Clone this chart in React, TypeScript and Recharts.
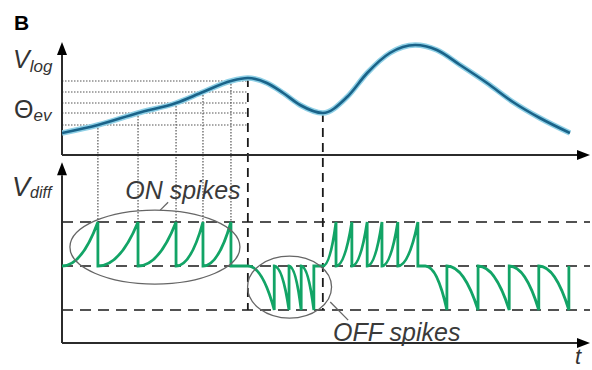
import { ComposedChart, Line, XAxis, YAxis, ReferenceLine, ReferenceDot } from 'recharts'

// ---- data (time in arbitrary units 0..10) ----
// V_log (upper panel)
const LOG_T = [0, 0.68, 1.44, 2.16, 2.67, 3.2, 3.52, 3.88, 4.19, 4.51, 4.94, 5.4, 5.78, 6.21, 6.69, 7.1, 7.54, 8.05, 8.54, 9.05, 9.62]
const LOG_V = [2.2, 3.0, 4.2, 5.2, 6.3, 7.4, 7.7, 7.2, 6.2, 5.0, 4.2, 5.8, 8.2, 10.2, 11.0, 10.5, 9.0, 7.2, 5.3, 3.7, 2.2]

// event thresholds (dotted lines) and the first ON spike times
const THETA = [3.0, 4.2, 5.2, 6.3, 7.4]
const ON_SPIKES_1 = [0.68, 1.44, 2.16, 2.67, 3.2]
const PEAK_T = 3.52
const OFF_SPIKES_1 = [4.02, 4.3, 4.53, 4.77]
const DIP_T = 4.94
const ON_SPIKES_2 = [5.19, 5.49, 5.78, 6.06, 6.36, 6.74]
const OFF_START_2 = 6.88
const OFF_SPIKES_2 = [7.29, 7.88, 8.47, 9.03, 9.6]
const PEAK_V = 7.7
const DIP_V = 4.2

// V_diff levels
const ON_LEVEL = 1
const OFF_LEVEL = -1

// ---- layout ----
const W = 592
const H = 370
const LOG_ZERO_Y = 155 // pixel row of V_log = 0
const LOG_PX = 10 // px per V_log unit
const DIFF_ZERO_Y = 266 // pixel row of V_diff = 0
const DIFF_PX = 44

const logDomain: [number, number] = [(LOG_ZERO_Y - H) / LOG_PX, LOG_ZERO_Y / LOG_PX]
const diffDomain: [number, number] = [(DIFF_ZERO_Y - H) / DIFF_PX, DIFF_ZERO_Y / DIFF_PX]
const diffToLog = (d: number) => (LOG_ZERO_Y - (DIFF_ZERO_Y - DIFF_PX * d)) / LOG_PX

const FONT = '"Liberation Sans", Arial, sans-serif'
const BLUE = '#1a6389'
const BLUE_HALO = '#8fd0e6'
const GREEN = '#12a466'
const INK = '#2b2b2b'

const logData = LOG_T.map((t, i) => ({ t, v: LOG_V[i] }))

// spike trains: ramp to threshold, then jump back to 0
function spikes(times: number[], level: number) {
  const out: { t: number; v: number }[] = []
  times.forEach((t) => {
    out.push({ t, v: level })
    out.push({ t, v: 0 })
  })
  return out
}
const diffData = [
  { t: 0, v: 0 },
  ...spikes(ON_SPIKES_1, ON_LEVEL),
  { t: PEAK_T, v: 0 },
  ...spikes(OFF_SPIKES_1, OFF_LEVEL),
  { t: DIP_T, v: 0 },
  ...spikes(ON_SPIKES_2, ON_LEVEL),
  { t: OFF_START_2, v: 0 },
  ...spikes(OFF_SPIKES_2, OFF_LEVEL),
]

// curve: flat start, steepening towards threshold; straight for jumps / flats
function rampCurve(context: any) {
  let px = 0, py = 0, n = 0
  return {
    areaStart() {},
    areaEnd() {},
    lineStart() { n = 0 },
    lineEnd() {},
    point(x: number, y: number) {
      x = +x; y = +y
      if (n === 0) context.moveTo(x, y)
      else if (Math.abs(x - px) < 0.5 || Math.abs(y - py) < 0.5) context.lineTo(x, y)
      else context.quadraticCurveTo(px + 0.55 * (x - px), py, x, y)
      px = x; py = y; n++
    },
  }
}

function ArrowLine(p: any) {
  const { x1, y1, x2, y2 } = p
  const a = Math.atan2(y2 - y1, x2 - x1)
  const L = 13, hw = 5
  const bx = x2 - L * Math.cos(a), by = y2 - L * Math.sin(a)
  const pts = `${x2},${y2} ${bx - hw * Math.sin(a)},${by + hw * Math.cos(a)} ${bx + hw * Math.sin(a)},${by - hw * Math.cos(a)}`
  return (
    <g>
      <line x1={x1} y1={y1} x2={bx} y2={by} stroke={INK} strokeWidth={2} />
      <polygon points={pts} fill="#000" />
    </g>
  )
}

const ellipse = (rx: number, ry: number) => (p: any) => (
  <ellipse cx={p.cx} cy={p.cy} rx={rx} ry={ry} fill="none" stroke="#666" strokeWidth={1.3} />
)

const note = (text: string) => (p: any) => (
  <text x={p.cx} y={p.cy} textAnchor="middle" dominantBaseline="central" fontFamily={FONT} fontStyle="italic" fontSize={25} fill="#3a3a3a">
    {text}
  </text>
)

export default function App() {
  return (
    <div style={{ position: 'absolute', left: 0, top: 0, width: W, height: H, background: '#fff', overflow: 'hidden' }}>
      <ComposedChart width={W} height={H} margin={{ top: 0, right: 2, bottom: 0, left: 62 }}>
        <XAxis type="number" dataKey="t" domain={[0, 10]} hide allowDataOverflow />
        <YAxis yAxisId="log" type="number" domain={logDomain} hide allowDataOverflow />
        <YAxis yAxisId="diff" type="number" domain={diffDomain} hide allowDataOverflow />

        {/* threshold levels (dotted) */}
        {THETA.map((th) => (
          <ReferenceLine key={'th' + th} yAxisId="log" segment={[{ x: 0, y: th }, { x: PEAK_T, y: th }]}
            stroke="#555" strokeWidth={1.2} strokeDasharray="1.5 1.5" />
        ))}
        {ON_SPIKES_1.map((t, i) => (
          <ReferenceLine key={'sp' + t} yAxisId="log" segment={[{ x: t, y: THETA[i] }, { x: t, y: diffToLog(ON_LEVEL) }]}
            stroke="#555" strokeWidth={1.2} strokeDasharray="1.5 1.5" />
        ))}

        {/* V_diff threshold lines */}
        {[ON_LEVEL, 0, OFF_LEVEL].map((lv) => (
          <ReferenceLine key={'lv' + lv} yAxisId="diff" y={lv} stroke="#1a1a1a" strokeWidth={1.7} strokeDasharray="11 7" />
        ))}

        {/* dashed verticals at peak and dip */}
        <ReferenceLine yAxisId="log" segment={[{ x: PEAK_T, y: PEAK_V }, { x: PEAK_T, y: diffToLog(OFF_LEVEL) }]}
          stroke="#1a1a1a" strokeWidth={1.8} strokeDasharray="9 6" />
        <ReferenceLine yAxisId="log" segment={[{ x: DIP_T, y: DIP_V }, { x: DIP_T, y: diffToLog(OFF_LEVEL) }]}
          stroke="#1a1a1a" strokeWidth={1.8} strokeDasharray="9 6" />

        {/* axes with arrows */}
        <ReferenceLine yAxisId="log" segment={[{ x: 0, y: 0 }, { x: 10, y: 0 }]} shape={ArrowLine} />
        <ReferenceLine yAxisId="log" segment={[{ x: 0, y: 0 }, { x: 0, y: 11.3 }]} shape={ArrowLine} />
        <ReferenceLine yAxisId="diff" segment={[{ x: 0, y: -1.75 }, { x: 10, y: -1.75 }]} shape={ArrowLine} />
        <ReferenceLine yAxisId="diff" segment={[{ x: 0, y: -1.75 }, { x: 0, y: 2.36 }]} shape={ArrowLine} />

        {/* V_log */}
        <Line yAxisId="log" data={logData} dataKey="v" type="monotone" dot={false} stroke={BLUE_HALO} strokeWidth={5.5} isAnimationActive={false} />
        <Line yAxisId="log" data={logData} dataKey="v" type="monotone" dot={false} stroke={BLUE} strokeWidth={2.6} isAnimationActive={false} />

        {/* V_diff */}
        <Line yAxisId="diff" data={diffData} dataKey="v" type={rampCurve as any} dot={false} stroke={GREEN} strokeWidth={2.8} isAnimationActive={false} />

        {/* annotations */}
        <ReferenceDot yAxisId="diff" x={1.76} y={0.43} shape={ellipse(85, 37)} ifOverflow="visible" />
        <ReferenceDot yAxisId="diff" x={4.31} y={-0.48} shape={ellipse(42, 31)} ifOverflow="visible" />
        <ReferenceLine yAxisId="diff" segment={[{ x: 1.86, y: 1.27 }, { x: 2.01, y: 1.45 }]} stroke="#666" strokeWidth={1.3} />
        <ReferenceLine yAxisId="diff" segment={[{ x: 5.08, y: -0.82 }, { x: 5.42, y: -1.23 }]} stroke="#666" strokeWidth={1.3} />
        <ReferenceDot yAxisId="diff" x={2.29} y={1.73} shape={note('ON spikes')} ifOverflow="visible" />
        <ReferenceDot yAxisId="diff" x={6.34} y={-1.5} shape={note('OFF spikes')} ifOverflow="visible" />
      </ComposedChart>

      <svg width={W} height={H} style={{ position: 'absolute', left: 0, top: 0, pointerEvents: 'none' }}>
        <text x={14} y={30} fontFamily={FONT} fontWeight="bold" fontSize={21} fill="#000">B</text>
        <text x={13} y={68} fontFamily={FONT} fill="#333">
          <tspan fontStyle="italic" fontSize={25}>V</tspan>
          <tspan fontStyle="italic" fontSize={17} dy={4}>log</tspan>
        </text>
        <text x={14} y={118} fontFamily={FONT} fill="#333">
          <tspan fontSize={25}>Θ</tspan>
          <tspan fontStyle="italic" fontSize={17} dy={3}>ev</tspan>
        </text>
        <text x={12} y={196} fontFamily={FONT} fill="#333">
          <tspan fontStyle="italic" fontSize={27}>V</tspan>
          <tspan fontStyle="italic" fontSize={16} dy={2}>diff</tspan>
        </text>
        <text x={575} y={364} fontFamily={FONT} fontStyle="italic" fontSize={22} fill="#333">t</text>
      </svg>
    </div>
  )
}
